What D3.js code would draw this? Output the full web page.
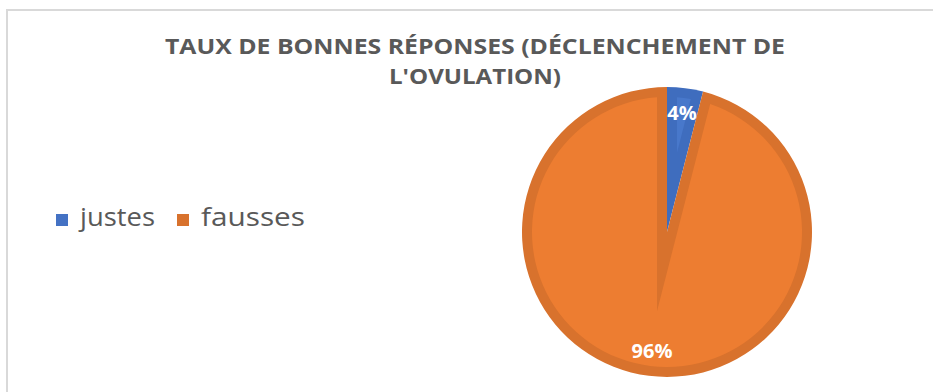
<!DOCTYPE html>
<html>
<head>
<meta charset="utf-8">
<script src="https://cdn.jsdelivr.net/npm/d3@7"></script>
<style>
  html, body { margin: 0; padding: 0; background: #fff; }
  svg { display: block; }
</style>
</head>
<body>
<svg id="chart" width="933" height="392"></svg>
<script>
// Share of correct answers about ovulation triggering
const categories = ["justes", "fausses"];
const values = [4, 96];
const labels = ["4%", "96%"];
const titleLines = ["TAUX DE BONNES RÉPONSES (DÉCLENCHEMENT DE", "L'OVULATION)"];

const fillOuter = ["#3F6DBE", "#D8722D"];
const fillInner = ["#4878CB", "#ED7D31"];
const legendColors = ["#4472C4", "#D8722D"];

const W = 933, H = 392;
const cx = 667, cy = 232, R = 145, band = 10;

const svg = d3.select("#chart");

// chart area frame (top and left edges visible)
svg.append("rect")
  .attr("x", 7).attr("y", 10)
  .attr("width", W + 20).attr("height", H + 20)
  .attr("fill", "#fff")
  .attr("stroke", "#D9D9D9").attr("stroke-width", 2);

// title
const title = svg.append("g")
  .attr("font-family", "'Open Sans', sans-serif")
  .attr("font-weight", 700)
  .attr("font-size", 21)
  .attr("fill", "#595959")
  .attr("text-anchor", "middle");
const titleWidths = [620, 172];
titleLines.forEach((t, i) => {
  title.append("text")
    .attr("x", 475)
    .attr("y", 54 + i * 30)
    .attr("textLength", titleWidths[i])
    .attr("lengthAdjust", "spacingAndGlyphs")
    .text(t);
});

// pie
const pie = d3.pie().sort(null).value(d => d);
const arcs = pie(values);
const arcGen = d3.arc().innerRadius(0).outerRadius(R);
const labelArc = d3.arc().innerRadius(120).outerRadius(120);

const g = svg.append("g").attr("transform", `translate(${cx},${cy})`);

const dir = a => [Math.sin(a), -Math.cos(a)];

// inner, lighter face of a slice: the wedge offset inward by `band`
function innerFace(a0, a1) {
  const theta = a1 - a0;
  const mid = (a0 + a1) / 2;
  const dist = band / Math.sin(theta / 2);
  const m = dir(mid);
  const P = [m[0] * dist, m[1] * dist];
  const Rin = R - band;
  const hit = a => {
    const u = dir(a);
    const pu = P[0] * u[0] + P[1] * u[1];
    const pp = P[0] * P[0] + P[1] * P[1];
    const t = -pu + Math.sqrt(pu * pu - pp + Rin * Rin);
    return [P[0] + t * u[0], P[1] + t * u[1]];
  };
  const q0 = hit(a0), q1 = hit(a1);
  const ang0 = Math.atan2(q0[0], -q0[1]);
  let ang1 = Math.atan2(q1[0], -q1[1]);
  let sweep = ang1 - ang0;
  while (sweep < 0) sweep += 2 * Math.PI;
  const large = sweep > Math.PI ? 1 : 0;
  return `M${P[0]},${P[1]}L${q0[0]},${q0[1]}A${Rin},${Rin} 0 ${large} 1 ${q1[0]},${q1[1]}Z`;
}

g.selectAll("path.outer")
  .data(arcs)
  .join("path")
  .attr("class", "outer")
  .attr("d", arcGen)
  .attr("fill", (d, i) => fillOuter[i]);

g.selectAll("path.inner")
  .data(arcs)
  .join("path")
  .attr("class", "inner")
  .attr("d", d => innerFace(d.startAngle, d.endAngle))
  .attr("fill", (d, i) => fillInner[i]);

g.selectAll("text.val")
  .data(arcs)
  .join("text")
  .attr("class", "val")
  .attr("transform", d => {
    const c = labelArc.centroid(d);
    return `translate(${c[0]},${c[1]})`;
  })
  .attr("text-anchor", "middle")
  .attr("dy", "0.36em")
  .attr("font-family", "'Open Sans', sans-serif")
  .attr("font-weight", 700)
  .attr("font-size", 20)
  .attr("fill", "#fff")
  .text((d, i) => labels[i]);

// legend
const legend = svg.append("g")
  .attr("font-family", "'Open Sans', sans-serif")
  .attr("font-size", 26)
  .attr("fill", "#595959");
const legendX = [56, 177];
const legendTextW = [75, 104];
categories.forEach((c, i) => {
  legend.append("rect")
    .attr("x", legendX[i]).attr("y", 214)
    .attr("width", 12).attr("height", 12)
    .attr("fill", legendColors[i]);
  legend.append("text")
    .attr("x", legendX[i] + 24)
    .attr("y", 226)
    .attr("textLength", legendTextW[i])
    .attr("lengthAdjust", "spacingAndGlyphs")
    .text(c);
});
</script>
</body>
</html>
